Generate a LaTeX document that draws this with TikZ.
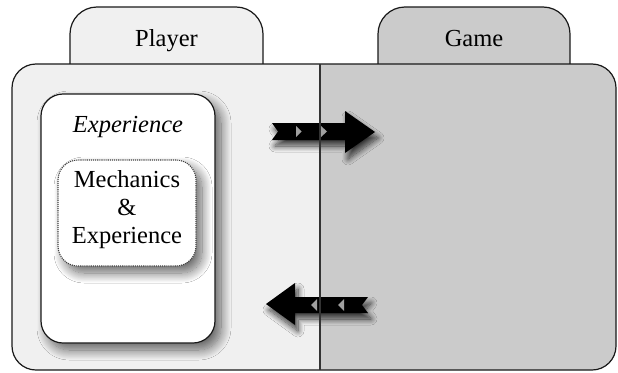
\documentclass[tikz,border=0pt]{standalone}
\usepackage{fontspec}
\setmainfont{Liberation Serif}
\usetikzlibrary{shadows.blur}

\definecolor{playerfill}{HTML}{F0F0F0}
\definecolor{gamefill}{HTML}{CBCBCB}
\definecolor{notchgrey}{HTML}{A0A0A0}

\begin{document}
\begin{tikzpicture}[x=1pt, y=-1pt, line join=round,
  frame/.style={draw=black!90, line width=1.2pt},
  softshadow/.style={blur shadow={shadow xshift=6pt, shadow yshift=-7pt,
      shadow blur radius=10pt, shadow blur steps=16, shadow opacity=60}},
  arrowshadow/.style={blur shadow={shadow xshift=3pt, shadow yshift=-6pt,
      shadow blur radius=6pt, shadow blur steps=12, shadow opacity=75}},
  lbl/.style={font=\rmfamily\fontsize{24.5}{28}\selectfont, align=center, inner sep=0pt},
  notch/.style={fill=notchgrey},
]
\useasboundingbox (0,0) rectangle (618,372);

% tabs above the main panel
\draw[frame, fill=playerfill, rounded corners=27] (70,72) -- (70,7) -- (263,7) -- (263,72);
\draw[frame, fill=gamefill, rounded corners=27] (378,72) -- (378,7) -- (570,7) -- (570,72);
\node[lbl, anchor=base] (player) at (166.5,46) {Player};
\node[lbl, anchor=base] (game) at (474,46) {Game};

% main panel: player half and game half
\fill[playerfill, rounded corners=24] (12,64) rectangle (616,370);
\begin{scope}
  \clip (320,0) rectangle (618,372);
  \fill[gamefill, rounded corners=24] (12,64) rectangle (616,370);
\end{scope}
\draw[frame, rounded corners=24] (12,64) rectangle (616,370);

% experience box with the inner dotted box
\node[frame, fill=white, rounded corners=22, minimum width=174pt, minimum height=249pt,
      softshadow] (expbox) at (128,218.5) {};
\node[lbl, font=\rmfamily\fontsize{24.5}{28}\selectfont\itshape, anchor=base] (exptitle) at (128,132) {Experience};
\node[draw=black!75, densely dotted, line width=1.1pt, fill=white, rounded corners=20,
      minimum width=138pt, minimum height=106pt, softshadow] (mechbox) at (127,213) {};
\node[lbl] (mechtext) at (127,209.5) {Mechanics\\\&\\Experience};

% arrow from player to game
\fill[arrowshadow] (272,123) -- (345,123) -- (345,111) -- (375,132) -- (345,153)
  -- (345,140) -- (272,140) -- (278,131.5) -- cycle;
\fill[notch] (296,126) -- (301.5,131.5) -- (296,137) -- cycle;
\fill[notch] (321,126) -- (327,131.5) -- (321,137) -- cycle;

% arrow from game to player
\fill[arrowshadow] (266,304) -- (295,283) -- (295,297) -- (368,297) -- (362,305)
  -- (368,313) -- (295,313) -- (295,325) -- cycle;
\fill[notch] (317,299) -- (311,305) -- (317,311) -- cycle;
\fill[notch] (344,299) -- (338,305) -- (344,311) -- cycle;

% divider between the two halves
\draw[line width=1.2pt, draw=black!80] (320,64) -- (320,370);
\end{tikzpicture}
\end{document}
